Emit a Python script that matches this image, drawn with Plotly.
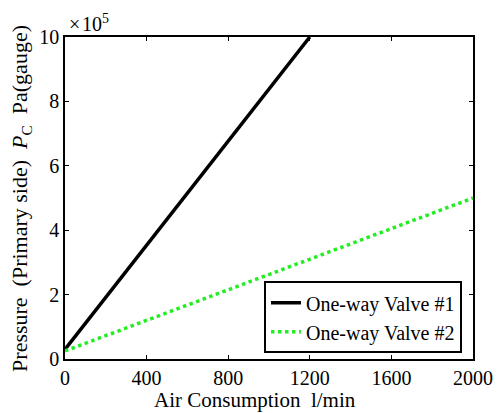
import plotly.graph_objects as go

# Air consumption (l/min) vs. primary-side pressure (Pa, gauge)
valve1_flow = [0, 1200]
valve1_pressure = [0.3e5, 10.0e5]
valve2_flow = [0, 2000]
valve2_pressure = [0.25e5, 5.0e5]

x_ticks = [0, 400, 800, 1200, 1600, 2000]
y_ticks = [0, 2e5, 4e5, 6e5, 8e5, 10e5]
y_tick_labels = ["0", "2", "4", "6", "8", "10"]

FONT = "Liberation Serif"
NB = "\u00a0"

fig = go.Figure()
fig.add_trace(go.Scatter(
    x=valve1_flow, y=valve1_pressure, mode="lines",
    name="One-way Valve #1",
    line=dict(color="black", width=3.5),
))
fig.add_trace(go.Scatter(
    x=valve2_flow, y=valve2_pressure, mode="lines",
    name="One-way Valve #2",
    line=dict(color="#22ee22", width=3.5, dash="dot"),
))

axis_common = dict(
    showgrid=False, zeroline=False, showline=True, linecolor="black",
    linewidth=1.5, mirror="ticks", ticks="inside", ticklen=4,
    tickcolor="black", tickwidth=1, automargin=False,
    tickfont=dict(family=FONT, size=20, color="black"),
)

fig.update_layout(
    width=502, height=413,
    margin=dict(l=65, r=29, t=37, b=54),
    paper_bgcolor="white", plot_bgcolor="white",
    font=dict(family=FONT, color="black"),
    xaxis=dict(range=[0, 2000], tickvals=x_ticks, **axis_common),
    yaxis=dict(range=[0, 10e5], tickvals=y_ticks, ticktext=y_tick_labels,
               **axis_common),
    legend=dict(
        x=0.973, y=0.018, xanchor="right", yanchor="bottom",
        bgcolor="white", bordercolor="black", borderwidth=2,
        font=dict(family=FONT, size=20, color="black"),
        tracegroupgap=0,
    ),
    showlegend=True,
)

# Axis titles
fig.add_annotation(
    text=f"Air Consumption{NB}{NB}l/min", xref="paper", yref="paper",
    x=0.466, y=-0.168, xanchor="center", yanchor="bottom", showarrow=False,
    font=dict(family=FONT, size=21, color="black"), borderpad=0,
)
fig.add_annotation(
    text=(f"Pressure{NB}{NB}(Primary{NB}side){NB}{NB}"
          f"<i>P</i><sub>C</sub>{NB}{NB}Pa(gauge)"),
    xref="paper", yref="paper", x=-0.108, y=0.5,
    xanchor="center", yanchor="middle", textangle=-90, showarrow=False,
    font=dict(family=FONT, size=22, color="black"),
)

# Exponent for the y tick values
fig.add_annotation(
    text="\u00d7\u200a10<sup>5</sup>", xref="paper", yref="paper",
    x=0.005, y=1.0, xanchor="left", yanchor="bottom",
    showarrow=False, font=dict(family=FONT, size=20, color="black"),
)

fig.write_html("out.html")
